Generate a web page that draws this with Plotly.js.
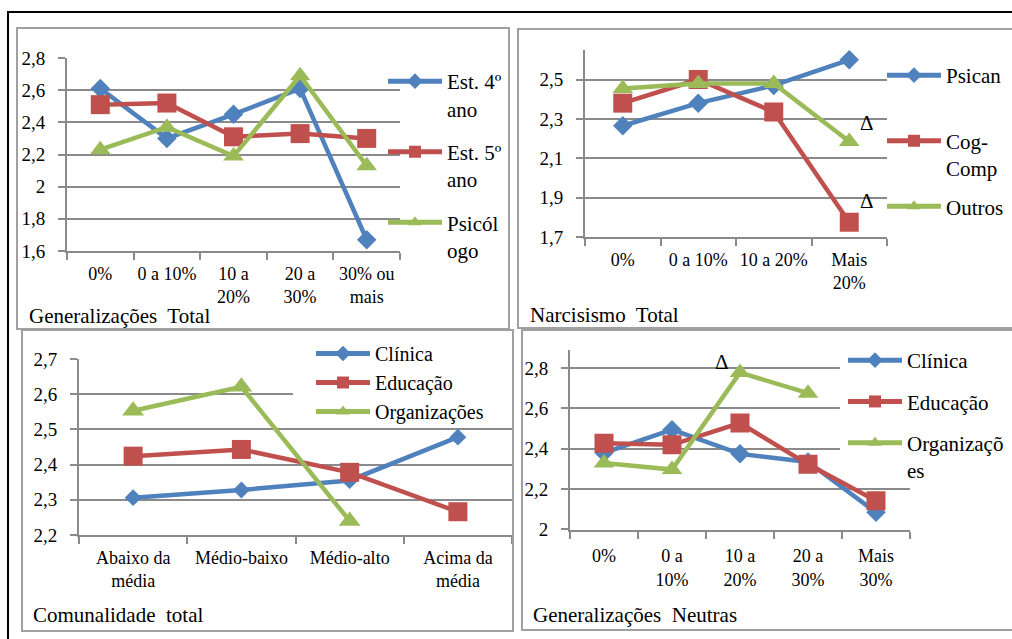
<!DOCTYPE html>
<html><head><meta charset="utf-8">
<script src="https://cdn.plot.ly/plotly-3.0.1.min.js"></script>
<style>html,body{margin:0;padding:0;background:#fff;}#chart{width:1012px;height:639px;}</style>
</head><body><div id="chart"></div>
<script>
// ---------- data ----------
const p1Categories = ['0%', '0 a 10%', '10 a<br>20%', '20 a<br>30%', '30% ou<br>mais'];
const p1Est4 = [2.61, 2.30, 2.45, 2.61, 1.67];
const p1Est5 = [2.51, 2.52, 2.31, 2.33, 2.30];
const p1Psicologo = [2.23, 2.37, 2.19, 2.69, 2.13];
const p1Names = ['Est. 4º<br>ano', 'Est. 5º<br>ano', 'Psicól<br>ogo'];
const p1Title = 'Generalizações\u00a0 Total';

const p2Categories = ['0%', '0 a 10%', '10 a 20%', 'Mais<br>20%'];
const p2Psican = [2.265, 2.38, 2.47, 2.60];
const p2CogComp = [2.38, 2.50, 2.335, 1.775];
const p2Outros = [2.455, 2.48, 2.48, 2.185];
const p2Names = ['Psican<br>\u00a0', 'Cog-<br>Comp', 'Outros'];
const p2Title = 'Narcisismo\u00a0 Total';

const p3Categories = ['Abaixo da<br>média', 'Médio-baixo', 'Médio-alto', 'Acima da<br>média'];
const p3Clinica = [2.306, 2.328, 2.355, 2.478];
const p3Educacao = [2.424, 2.443, 2.378, 2.266];
const p3Organizacoes = [2.553, 2.621, 2.240, null];
const p3Names = ['Clínica', 'Educação', 'Organizações'];
const p3Title = 'Comunalidade\u00a0 total';

const p4Categories = ['0%', '0 a<br>10%', '10 a<br>20%', '20 a<br>30%', 'Mais<br>30%'];
const p4Clinica = [2.38, 2.495, 2.375, 2.335, 2.085];
const p4Educacao = [2.428, 2.42, 2.528, 2.323, 2.142];
const p4Organizacoes = [2.33, 2.297, 2.778, 2.676, null];
const p4Names = ['Clínica', 'Educação', 'Organizaçõ<br>es'];
const p4Title = 'Generalizações\u00a0 Neutras';

const deltaMark = 'Δ';

// ---------- style ----------
const W = 1012, H = 639;
const px = v => v / W;
const py = v => 1 - v / H;
const FONT = 'Liberation Serif';
const COLORS = ['#4F81BD', '#C0504D', '#9BBB59'];
const SYMBOLS = ['diamond', 'square', 'triangle-up'];
const SIZES = [15, 19, 18];
const GRID = '#8a8a8a';

function series(cats, vals, name, k, ax, leg, msize) {
  return {
    type: 'scatter', mode: 'lines+markers', x: cats, y: vals, name: name,
    xaxis: 'x' + (ax === 1 ? '' : ax), yaxis: 'y' + (ax === 1 ? '' : ax),
    legend: leg, legendgroup: leg + k,
    line: {color: COLORS[k], width: 4.5},
    marker: {symbol: SYMBOLS[k], color: COLORS[k], size: (msize || SIZES)[k]},
    connectgaps: false, hoverinfo: 'skip'
  };
}

const traces = [
  series(p1Categories, p1Est4, p1Names[0], 0, 1, 'legend'),
  series(p1Categories, p1Est5, p1Names[1], 1, 1, 'legend'),
  series(p1Categories, p1Psicologo, p1Names[2], 2, 1, 'legend'),
  series(p2Categories, p2Psican, p2Names[0], 0, 2, 'legend2'),
  series(p2Categories, p2CogComp, p2Names[1], 1, 2, 'legend2'),
  series(p2Categories, p2Outros, p2Names[2], 2, 2, 'legend2'),
  series(p3Categories, p3Clinica, p3Names[0], 0, 3, 'legend3', [13, 19, 19]),
  series(p3Categories, p3Educacao, p3Names[1], 1, 3, 'legend3', [13, 19, 19]),
  series(p3Categories, p3Organizacoes, p3Names[2], 2, 3, 'legend3', [13, 19, 19]),
  series(p4Categories, p4Clinica, p4Names[0], 0, 4, 'legend4'),
  series(p4Categories, p4Educacao, p4Names[1], 1, 4, 'legend4'),
  series(p4Categories, p4Organizacoes, p4Names[2], 2, 4, 'legend4')
];

function xax(x0, x1, anchor, standoff, n) {
  return {
    domain: [px(x0), px(x1)], anchor: anchor, type: 'category', range: [-0.5, n - 0.5],
    showgrid: false, zeroline: false, showline: true, linecolor: GRID, linewidth: 2,
    ticks: 'outside', tickson: 'boundaries', ticklen: 7, tickwidth: 2, tickcolor: GRID,
    tickfont: {family: FONT, size: 18, color: '#000'}, tickangle: 0,
    ticklabelstandoff: standoff, fixedrange: true
  };
}
function yax(y0, y1, anchor, range, tick0, dtick) {
  return {
    domain: [py(y1), py(y0)], anchor: anchor, range: range, tick0: tick0, dtick: dtick,
    tickmode: 'linear',
    showgrid: true, gridcolor: GRID, gridwidth: 2, zeroline: false,
    showline: true, linecolor: GRID, linewidth: 2,
    ticks: 'outside', ticklen: 7, tickwidth: 2, tickcolor: GRID,
    tickfont: {family: FONT, size: 19, color: '#000'}, ticklabelstandoff: 9,
    fixedrange: true
  };
}
function legendBox(x, y, gap, fsize) {
  return {
    x: px(x), y: py(y), xref: 'paper', yref: 'paper', xanchor: 'left', yanchor: 'top',
    bgcolor: 'rgba(0,0,0,0)', borderwidth: 0,
    font: {family: FONT, size: fsize, color: '#000'},
    itemwidth: 54, valign: 'top', traceorder: 'grouped', tracegroupgap: gap,
    itemsizing: 'constant'
  };
}
function rect(x0, y0, x1, y1, color, w) {
  return {type: 'rect', xref: 'paper', yref: 'paper', x0: px(x0), x1: px(x1), y0: py(y1), y1: py(y0),
          line: {color: color, width: w}, fillcolor: 'rgba(0,0,0,0)', layer: 'above'};
}
// white backing behind a legend block: hides gridlines only (drawn between grid and traces)
function legendBacking(ax, x0, x1, y0, y1) {
  return {type: 'rect', xref: 'x' + ax, yref: 'y' + ax, x0: x0, x1: x1, y0: y0, y1: y1,
          fillcolor: '#ffffff', line: {width: 0}, layer: 'between'};
}
function label(text, x, y, anchor) {
  return {text: text, x: px(x), y: py(y), xref: 'paper', yref: 'paper', xanchor: anchor || 'left',
          yanchor: 'middle', showarrow: false, font: {family: FONT, size: 21, color: '#000'}};
}

const layout = {
  width: W, height: H, margin: {l: 0, r: 0, t: 0, b: 0},
  paper_bgcolor: '#fff', plot_bgcolor: 'rgba(0,0,0,0)',
  separators: ', ', showlegend: true, hovermode: false,
  font: {family: FONT, color: '#000'},
  xaxis: xax(67, 400, 'y', 5, p1Categories.length),
  yaxis: yax(58, 251, 'x', [1.5999, 2.8001], 1.6, 0.2),
  xaxis2: xax(585, 887, 'y2', 5, p2Categories.length),
  yaxis2: yax(50, 237, 'x2', [1.6999, 2.65], 1.7, 0.2),
  xaxis3: xax(79, 512, 'y3', 5, p3Categories.length),
  yaxis3: yax(359, 535, 'x3', [2.1999, 2.7001], 2.2, 0.1),
  xaxis4: xax(570, 910, 'y4', 9, p4Categories.length),
  yaxis4: yax(350, 529.5, 'x4', [1.9999, 2.89], 2.0, 0.2),
  legend: legendBox(383, 61, 13, 21),
  legend2: legendBox(882, 55, 8, 21),
  legend3: legendBox(311, 334, 0, 20),
  legend4: legendBox(843, 340, 11, 21),
  shapes: [
    rect(8, 12, 1030, 660, '#000', 2),
    rect(17, 28, 509, 329, '#a0a0a0', 2),
    rect(518, 29, 1030, 328, '#a0a0a0', 2),
    rect(22, 330, 513, 631, '#a0a0a0', 2),
    rect(522, 330, 1030, 630, '#a0a0a0', 2),
    legendBacking(3, 1.477, 3.6, 2.54, 2.75),
    legendBacking(4, 3.47, 4.6, 2.31, 2.95)
  ],
  annotations: [
    label(p1Title, 27, 316),
    label(p2Title, 528, 315),
    label(p3Title, 31, 615),
    label(p4Title, 531, 615),
    label(deltaMark, 867, 123, 'center'),
    label(deltaMark, 867, 201, 'center'),
    label(deltaMark, 722, 362, 'center')
  ]
};

Plotly.newPlot('chart', traces, layout, {staticPlot: true, displayModeBar: false});
</script>
</body></html>
